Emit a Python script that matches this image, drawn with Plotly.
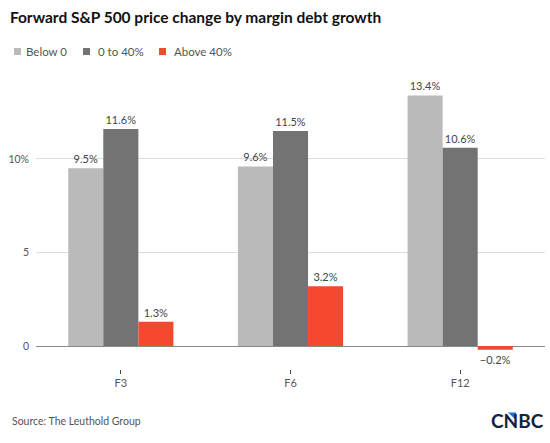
import plotly.graph_objects as go

categories = ["F3", "F6", "F12"]
below_0 = [9.5, 9.6, 13.4]
zero_to_40 = [11.6, 11.5, 10.6]
above_40 = [1.3, 3.2, -0.2]
series_names = ["Below 0", "0 to 40%", "Above 40%"]
colors = ["#bababa", "#737373", "#f4492f"]
y_tickvals = [0, 5, 10]
y_ticktext = ["0", "5", "10%"]

FONT = "Lato"
W, H = 550, 443
ML, MR, MT, MB = 36, 5, 84, 74
PW, PH = W - ML - MR, H - MT - MB

def px(x):
    return (x - ML) / PW

def py(y):
    return (H - MB - y) / PH

def fmt(v):
    s = f"{abs(v):.1f}%"
    return ("\u2212" + s) if v < 0 else s

fig = go.Figure()
for name, vals, col in zip(series_names, [below_0, zero_to_40, above_40], colors):
    fig.add_trace(go.Bar(
        x=categories, y=vals, name=name, marker_color=col, marker_line_width=0,
        text=[fmt(v) for v in vals], textposition="outside", cliponaxis=False,
        textfont=dict(family=FONT, size=11, color="#444"), showlegend=False,
    ))

fig.update_layout(
    width=W, height=H,
    margin=dict(l=ML, r=MR, t=MT, b=MB),
    paper_bgcolor="white", plot_bgcolor="white",
    barmode="group", bargap=0.38, bargroupgap=0,
    font=dict(family=FONT, color="#555"),
    title=dict(text="<b>Forward S&P 500 price change by margin debt growth</b>",
               x=0.018, xref="container", xanchor="left", y=0.96, yanchor="middle",
               font=dict(family=FONT, size=15.5, color="#111")),
)
fig.update_xaxes(showgrid=False, showline=False, ticks="outside", ticklen=4,
                 tickcolor="#444", tickfont=dict(family=FONT, size=11, color="#555"))
fig.update_yaxes(range=[-1.23, 14.01], tickvals=y_tickvals, ticktext=y_ticktext,
                 showgrid=True, gridcolor="#dcdcdc", gridwidth=1,
                 zeroline=True, zerolinecolor="#8a8a8a", zerolinewidth=1,
                 tickfont=dict(family=FONT, size=10.5, color="#555"), ticklabelstandoff=6)

# legend (drawn as swatches + labels)
legend_sq_x = [14, 83, 159]
legend_txt_x = [24, 96, 172]
for name, col, sx, tx in zip(series_names, colors, legend_sq_x, legend_txt_x):
    fig.add_shape(type="rect", xref="paper", yref="paper",
                  x0=px(sx), x1=px(sx + 7), y0=py(55), y1=py(48),
                  fillcolor=col, line_width=0)
    fig.add_annotation(text=name, xref="paper", yref="paper", x=px(tx), y=py(51.5),
                       xanchor="left", yanchor="middle", showarrow=False,
                       font=dict(family=FONT, size=11.5, color="#555"))

fig.add_annotation(text="Source: The Leuthold Group", xref="paper", yref="paper",
                   x=px(10), y=py(421), xanchor="left", yanchor="middle", showarrow=False,
                   font=dict(family=FONT, size=10.5, color="#555"))
fig.add_annotation(text="<b>CNBC</b>", xref="paper", yref="paper",
                   x=px(546), y=py(420), xanchor="right", yanchor="middle", showarrow=False,
                   font=dict(family="Lato", size=19, color="#14233d"))
# small blue accent on the logo's N
fig.add_shape(type="path", xref="paper", yref="paper",
              path=f"M {px(508)} {py(412.5)} L {px(516)} {py(412.5)} L {px(516)} {py(420)} Z",
              fillcolor="#1f6fd6", line_width=0)

fig.write_html("out.html")
